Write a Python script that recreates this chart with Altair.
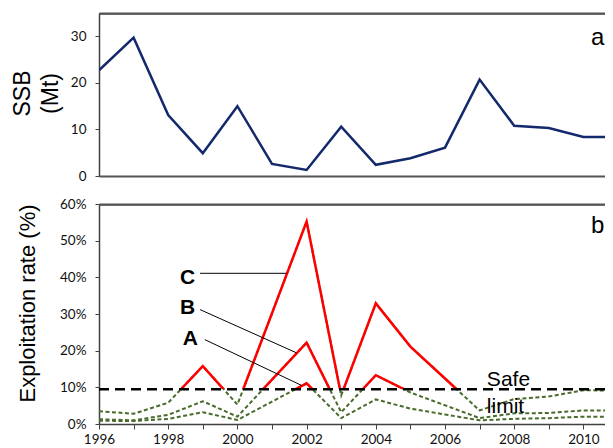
import altair as alt
import pandas as pd

# ---------------- data ----------------
years = list(range(1996, 2012))
ssb = [22.7, 29.7, 13.1, 4.9, 15.0, 2.6, 1.3, 10.6, 2.4, 3.8, 6.1, 20.7, 10.8, 10.3, 8.4, 8.4]
rate_a = [0.9, 0.8, 1.4, 3.2, 1.1, 6.1, 11.1, 1.6, 6.7, 4.2, 2.6, 1.0, 1.4, 1.6, 2.0, 2.0]
rate_b = [1.3, 1.0, 2.5, 6.2, 2.0, 12.1, 22.2, 3.2, 13.3, 8.6, 5.1, 1.6, 2.9, 3.0, 3.7, 3.7]
rate_c = [3.5, 2.8, 5.8, 15.8, 5.3, 30.2, 55.2, 7.8, 32.9, 21.1, 12.4, 3.7, 6.8, 7.5, 9.2, 9.1]
scenarios = ["A", "B", "C"]
safe_limit = 9.5

x_domain = [1996, 2010.624]
x_ticks = list(range(1996, 2011))
ssb_domain = [0, 35]
ssb_ticks = [0, 10, 20, 30]
rate_domain = [0, 60]
rate_ticks = [0, 10, 20, 30, 40, 50, 60]

# annotations (data units)
label_year = [1998.64, 1998.56, 1998.56]
label_rate = [23.2, 31.6, 39.8]
ptr_x1 = [1999.06, 1998.92, 1998.92]
ptr_y1 = [23.0, 31.2, 41.1]
ptr_x2 = [2001.86, 2001.71, 2001.42]
ptr_y2 = [10.5, 19.4, 41.1]
safe_words = ["Safe", "limit"]
safe_year = [2007.21, 2007.21]
safe_rate = [10.5, 3.1]
panel_a = {"t": ["a"], "year": [2010.41], "v": [29.7]}
panel_b = {"t": ["b"], "year": [2010.41], "v": [54.1]}

# ---------------- styling ----------------
NAVY = "#13296b"
RED = "#ff0000"
GREEN = "#4a6b2c"
AXIS = "#404040"
TICK_FONT = "Lato"
TEXT_FONT = "Liberation Sans"

PLOT_W, PLOT_H = 506, 411
TOP_RANGE = [163, 0]
BOT_RANGE = [411, 191]

x_scale = alt.Scale(domain=x_domain, nice=False, zero=False)
x_axis_labels = alt.Axis(
    orient="bottom", values=x_ticks,
    labelExpr="datum.value % 2 == 0 ? format(datum.value, 'd') : ''",
    title=None, grid=False, tickSize=5, tickColor=AXIS, tickWidth=1,
    domainColor=AXIS, domainWidth=1.5, labelFont=TICK_FONT, labelFontSize=13.5,
    labelColor="#111111", labelPadding=3, labelFlush=False, labelOverlap=False,
)


def border_axis(orient, offset):
    # plain axis line used as a panel border
    return alt.Axis(orient=orient, offset=offset, labels=False, ticks=False, grid=False,
                    domain=True, domainColor="#555555", domainWidth=2, title=None)


x_axis_top_border = border_axis("top", 0)                                   # top of panel a
x_axis_a_bottom = border_axis("bottom", TOP_RANGE[0] - PLOT_H)               # bottom of panel a
x_axis_b_top = border_axis("bottom", BOT_RANGE[1] - PLOT_H)                  # top of panel b

yt_scale = alt.Scale(domain=ssb_domain, range=TOP_RANGE, nice=False, zero=True)
yt_axis = alt.Axis(
    orient="left", values=ssb_ticks, title=["SSB", "(Mt)"], grid=False,
    titleFont=TEXT_FONT, titleFontSize=23, titleFontWeight="normal", titleColor="#000000",
    titleAngle=270, titleX=-70, titleY=80, titleAlign="center",
    titleBaseline="alphabetic", titleLineHeight=28,
    tickSize=4, tickColor=AXIS, domainColor=AXIS, domainWidth=1.5,
    labelFont=TICK_FONT, labelFontSize=13.5, labelColor="#111111", labelPadding=9,
)

yb_scale = alt.Scale(domain=rate_domain, range=BOT_RANGE, nice=False, zero=True)
yb_axis = alt.Axis(
    orient="left", values=rate_ticks, labelExpr="datum.value + '%'",
    title="Exploitation rate (%)", grid=False,
    titleFont=TEXT_FONT, titleFontSize=22, titleFontWeight="normal", titleColor="#000000",
    titleAngle=270, titleX=-65, titleY=290, titleAlign="center", titleBaseline="alphabetic",
    tickSize=4, tickColor=AXIS, domainColor=AXIS, domainWidth=1.5,
    labelFont=TICK_FONT, labelFontSize=13.5, labelColor="#111111", labelPadding=9,
)


def X(f, axis=None):
    return alt.X(f, type="quantitative", scale=x_scale, axis=axis)


def YT(f, axis=None):
    return alt.Y(f, type="quantitative", scale=yt_scale, axis=axis)


def YB(f, axis=None):
    return alt.Y(f, type="quantitative", scale=yb_scale, axis=axis)


# thin filled bands along the panel tops (extra border drawing)
band_t = alt.Chart(pd.DataFrame({
    "x1": [x_domain[0]], "x2": [x_domain[1]],
    "y1": [ssb_domain[1] - 0.35], "y2": [ssb_domain[1]],
})).mark_rect(color="#555555").encode(x=X("x1"), x2="x2", y=YT("y1"), y2="y2")

band_b = alt.Chart(pd.DataFrame({
    "x1": [x_domain[0]], "x2": [x_domain[1]],
    "y1": [rate_domain[1] - 0.5], "y2": [rate_domain[1]],
})).mark_rect(color="#555555").encode(x=X("x1"), x2="x2", y=YB("y1"), y2="y2")

# ---------------- top panel ----------------
df_ssb = pd.DataFrame({"year": years, "v": ssb})
line_t = alt.Chart(df_ssb).mark_line(color=NAVY, strokeWidth=2.5, clip=True).encode(
    x=X("year", x_axis_top_border), y=YT("v", yt_axis)
)
text_a = alt.Chart(pd.DataFrame(panel_a)).mark_text(
    font=TEXT_FONT, fontSize=24, color="#000000", align="center", baseline="middle"
).encode(x=X("year", x_axis_a_bottom), y=YT("v"), text="t:N")

# ---------------- bottom panel ----------------
series = {"A": rate_a, "B": rate_b, "C": rate_c}
layers_green = []
layers_red = []
for s in scenarios:
    vals = series[s]
    df = pd.DataFrame({"year": years, "v": vals})
    layers_green.append(
        alt.Chart(df).mark_line(color=GREEN, strokeWidth=2, strokeDash=[4, 2.5], clip=True)
        .encode(x=X("year"), y=YB("v"))
    )
    hi, lo = max(vals), min(vals)
    o = (hi - safe_limit) / (hi - lo)
    grad = alt.LinearGradient(
        gradient="linear", x1=0, x2=0, y1=0, y2=1,
        stops=[
            alt.GradientStop(color=RED, offset=0),
            alt.GradientStop(color=RED, offset=o),
            alt.GradientStop(color="rgba(255,0,0,0)", offset=o),
            alt.GradientStop(color="rgba(255,0,0,0)", offset=1),
        ],
    )
    layers_red.append(
        alt.Chart(df).mark_line(stroke=grad, strokeWidth=2.5, clip=True)
        .encode(x=X("year"), y=YB("v"))
    )

df_safe_rule = pd.DataFrame({"x1": [x_domain[0]], "x2": [x_domain[1]], "v": [safe_limit]})
safe_rule = alt.Chart(df_safe_rule).mark_rule(
    color="#000000", strokeWidth=2.5, strokeDash=[10, 6]
).encode(x=X("x1", x_axis_labels), x2="x2", y=YB("v", yb_axis))

df_ptr = pd.DataFrame({"x1": ptr_x1, "y1": ptr_y1, "x2": ptr_x2, "y2": ptr_y2})
pointers = alt.Chart(df_ptr).mark_rule(color="#000000", strokeWidth=1).encode(
    x=X("x1"), x2="x2", y=YB("y1"), y2="y2"
)

df_lab = pd.DataFrame({"t": scenarios, "year": label_year, "v": label_rate})
labels = alt.Chart(df_lab).mark_text(
    font=TEXT_FONT, fontSize=21, fontWeight="bold", color="#000000", align="center", baseline="middle"
).encode(x=X("year"), y=YB("v"), text="t:N")

df_safe = pd.DataFrame({"t": safe_words, "year": safe_year, "v": safe_rate})
safe_txt = alt.Chart(df_safe).mark_text(
    font=TEXT_FONT, fontSize=21, color="#000000", align="left", baseline="alphabetic"
).encode(x=X("year"), y=YB("v"), text="t:N")

text_b = alt.Chart(pd.DataFrame(panel_b)).mark_text(
    font=TEXT_FONT, fontSize=24, color="#000000", align="center", baseline="middle"
).encode(x=X("year", x_axis_b_top), y=YB("v"), text="t:N")

chart = (
    alt.layer(line_t, text_a, band_t, *layers_green, *layers_red, safe_rule, pointers,
              labels, safe_txt, text_b, band_b)
    .resolve_scale(x="independent", y="independent")
    .resolve_axis(x="independent", y="independent")
    .properties(
        width=PLOT_W, height=PLOT_H,
        autosize=alt.AutoSizeParams(type="none"),
        padding={"left": 91, "top": 5, "right": 0, "bottom": 22},
    )
    .configure_view(stroke=None)
)

chart.save("out.html", embed_options={"renderer": "svg", "actions": False})
